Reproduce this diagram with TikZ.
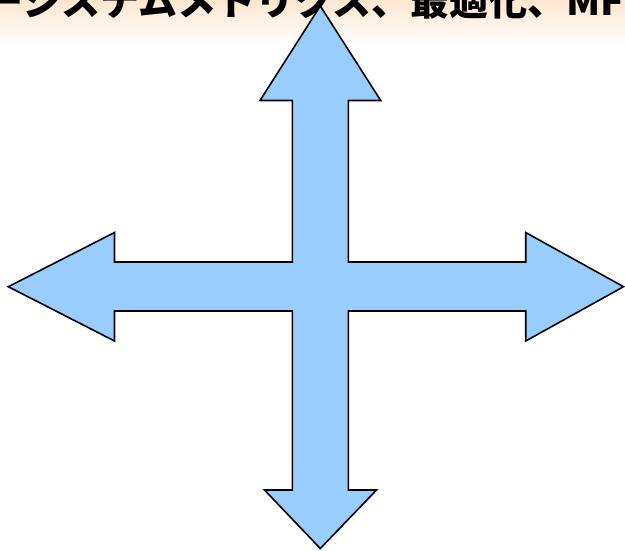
\documentclass[tikz,border=0pt]{standalone}
\usepackage{fontspec}
\newfontfamily\cjk{Noto Sans CJK JP}
\definecolor{arrowblue}{HTML}{99CCFF}
\definecolor{peach}{HTML}{FDE6CF}
\begin{document}
\begin{tikzpicture}[x=1pt,y=-1pt,
  crossarrow/.style={fill=arrowblue,draw=black,line width=1.6pt,line join=miter},
  titletext/.style={anchor=base west,inner sep=0pt,font=\cjk\bfseries\fontsize{39}{40}\selectfont,text=black}]
\useasboundingbox (0,0) rectangle (625,550);
\fill[white] (0,0) rectangle (625,550);
\shade[top color=peach,bottom color=white] (0,0) rectangle (625,45);
\begin{scope}
\clip (0,0) rectangle (625,60);
\node[titletext] (title) at (-16,15) {ーシステムメトリクス、最適化、MFC};
\end{scope}
\coordinate (c) at (320.3,286.7);
\draw[crossarrow] (320.3,6) -- (380.7,100.5) -- (348.3,100.5) -- (348.3,262)
  -- (525.7,262) -- (525.7,232.5) -- (623.5,286.7) -- (525.7,341) -- (525.7,311)
  -- (348.3,311) -- (348.3,490) -- (376.5,490) -- (320.3,548.5) -- (264.5,490)
  -- (292.3,490) -- (292.3,311) -- (114.5,311) -- (114.5,341) -- (8.3,286.7)
  -- (114.5,232.5) -- (114.5,262) -- (292.3,262) -- (292.3,100.5) -- (260,100.5) -- cycle;
\end{tikzpicture}
\end{document}
